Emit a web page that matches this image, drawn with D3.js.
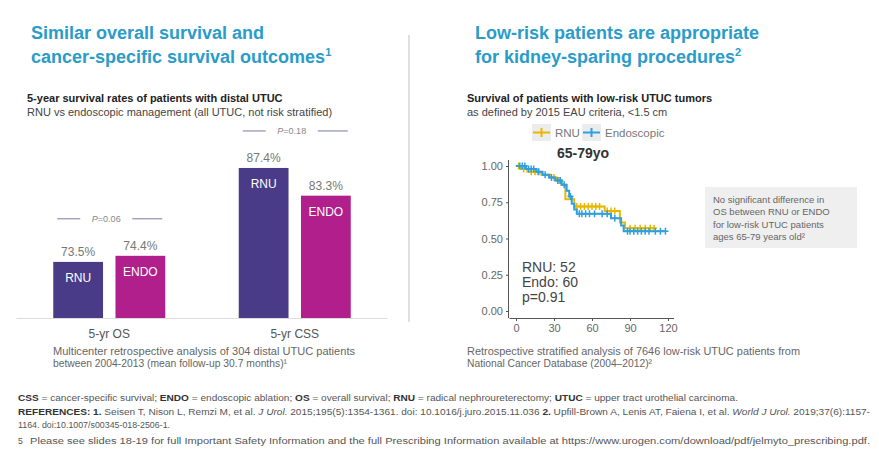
<html lang="en">
<head>
<meta charset="UTF-8">
<title>UTUC survival</title>
<script src="https://cdn.jsdelivr.net/npm/d3@7"></script>
<style>
  body { margin: 0; background: #fff; }
  text { font-family: "Liberation Sans", Arial, sans-serif; }
</style>
</head>
<body>
<div id="chart"></div>
<script>
// ---- data ----
const groups = ["5-yr OS", "5-yr CSS"];
const arms = ["RNU", "ENDO"];
const rnuRates = [73.5, 87.4];
const endoRates = [74.4, 83.3];
const pValues = ["0.06", "0.18"];

// Kaplan-Meier steps (month, survival)
const rnuSteps = [[0, 1.00], [4, 0.98], [9, 0.96], [20, 0.94], [27, 0.92], [32, 0.90], [36, 0.87],
  [39, 0.77], [46, 0.72], [70, 0.69], [82, 0.61], [86, 0.57], [109, 0.57]];
const rnuCensor = [2, 6, 12, 15, 17, 30, 34, 48, 51, 54, 57, 60, 63, 66, 72, 75, 78, 90, 94, 98, 102, 106, 109];
const endoSteps = [[0, 1.00], [8, 0.98], [16, 0.96], [21, 0.94], [26, 0.92], [31, 0.90], [36, 0.87],
  [40, 0.83], [42, 0.79], [44, 0.74], [46, 0.70], [48, 0.67], [75, 0.64], [83, 0.59], [85, 0.55], [118, 0.55]];
const endoCensor = [3, 5, 7, 10, 12, 14, 18, 23, 28, 33, 35, 38, 43, 50, 52, 55, 58, 62, 68, 72, 78, 88, 90, 93, 96, 99, 102, 105, 110, 114, 118];
const kmTicksX = [0, 30, 60, 90, 120];
const kmTicksY = [0, 0.25, 0.5, 0.75, 1];

const teal = "#2a9cc9", grey = "#666", purple = "#4a3b89", magenta = "#b01f8c";
const orange = "#E7B800", blue = "#2E9FDF";

function translate(x, y) { return 'translate(' + x + ',' + y + ')'; }

let svg = d3.select("#chart").append("svg")
  .attr("width", 879).attr("height", 452);

// headings
function heading(x, lines, sup) {
  lines.forEach((l, i) => {
    let t = svg.append("text").attr("x", x).attr("y", 39 + i * 24)
      .attr("fill", teal).style("font-size", "18px").style("font-weight", "bold").text(l);
    if (i === lines.length - 1)
      t.append("tspan").attr("dy", -7).style("font-size", "11px").text(sup);
  });
}
heading(31, ["Similar overall survival and", "cancer-specific survival outcomes"], "1");
heading(475, ["Low-risk patients are appropriate", "for kidney-sparing procedures"], "2");

// divider
svg.append("line").attr("x1", 409).attr("x2", 409).attr("y1", 35).attr("y2", 322)
  .attr("stroke", "#d6d6d6").attr("stroke-width", 1.5);

// ---------- left: bar chart ----------
svg.append("text").attr("x", 27).attr("y", 102).style("font-size", "11px")
  .style("font-weight", "bold").attr("fill", "#222").text("5-year survival rates of patients with distal UTUC");
svg.append("text").attr("x", 27).attr("y", 116).style("font-size", "11px")
  .attr("fill", "#444").text("RNU vs endoscopic management (all UTUC, not risk stratified)");

let x0 = d3.scaleBand().domain(groups).range([16.5, 387.5]);
let x1 = d3.scaleBand().domain(arms).range([0, 112]).paddingInner(0.2);
let y = d3.scaleLinear().domain([65.2, 100]).range([318, 82.8]);

let bars = [];
groups.forEach((g, i) => {
  bars.push({ group: g, arm: "RNU", v: rnuRates[i], color: purple });
  bars.push({ group: g, arm: "ENDO", v: endoRates[i], color: magenta });
});
let bx = d => x0(d.group) + x0.bandwidth() / 2 - 56 + x1(d.arm);

let bar = svg.selectAll(".bar").data(bars).enter().append("g");
bar.append("rect")
  .attr("x", bx).attr("width", x1.bandwidth())
  .attr("y", d => y(d.v)).attr("height", d => 318 - y(d.v))
  .attr("fill", d => d.color);
bar.append("text")
  .attr("x", d => bx(d) + x1.bandwidth() / 2).attr("y", d => y(d.v) + 20)
  .attr("text-anchor", "middle").attr("fill", "#fff").style("font-size", "12px")
  .text(d => d.arm);
bar.append("text")
  .attr("x", d => bx(d) + x1.bandwidth() / 2).attr("y", d => y(d.v) - 6)
  .attr("text-anchor", "middle").attr("fill", "#777").style("font-size", "12px")
  .text(d => d.v.toFixed(1) + "%");

svg.append("line").attr("x1", 16.5).attr("x2", 387.5).attr("y1", 318.5).attr("y2", 318.5)
  .attr("stroke", "#ddd").attr("stroke-width", 1);

let xAxis = svg.append("g").attr("transform", translate(0, 318))
  .call(d3.axisBottom(x0).tickSize(0).tickPadding(11));
xAxis.select(".domain").remove();
xAxis.selectAll("text").style("font-size", "12px").attr("fill", "#555")
  .style("font-family", "Liberation Sans, Arial, sans-serif");

// p-value brackets
groups.forEach((g, i) => {
  let cx = x0(g) + x0.bandwidth() / 2;
  let top = Math.min(y(rnuRates[i]), y(endoRates[i]));
  let py = top - 37;
  svg.append("line").attr("x1", cx - 52).attr("x2", cx - 29).attr("y1", py).attr("y2", py)
    .attr("stroke", "#7b7aa8").attr("stroke-width", 1);
  svg.append("line").attr("x1", cx + 23).attr("x2", cx + 53).attr("y1", py).attr("y2", py)
    .attr("stroke", "#7b7aa8").attr("stroke-width", 1);
  let t = svg.append("text").attr("x", cx - 3).attr("y", py + 3).attr("text-anchor", "middle")
    .attr("fill", "#888").style("font-size", "9px");
  t.append("tspan").style("font-style", "italic").text("P");
  t.append("tspan").text("=" + pValues[i]);
});

// footnotes under the two charts
function footnote(x, lines, lens) {
  lines.forEach((l, i) => {
    svg.append("text").attr("x", x).attr("y", 355 + i * 12).attr("fill", grey)
      .style("font-size", "11px").text(l)
      .attr("textLength", lens[i]).attr("lengthAdjust", "spacingAndGlyphs");
  });
}
footnote(53, ["Multicenter retrospective analysis of 304 distal UTUC patients",
  "between 2004-2013 (mean follow-up 30.7 months)\u00b9"], [302, 234]);
footnote(467, ["Retrospective stratified analysis of 7646 low-risk UTUC patients from",
  "National Cancer Database (2004\u20132012)\u00b2"], [333, 185]);

// ---------- right: KM curve ----------
svg.append("text").attr("x", 467).attr("y", 102).style("font-size", "11px")
  .style("font-weight", "bold").attr("fill", "#222").text("Survival of patients with low-risk UTUC tumors");
svg.append("text").attr("x", 467).attr("y", 116).style("font-size", "11px")
  .attr("fill", "#444").text("as defined by 2015 EAU criteria, <1.5 cm");

let kx = d3.scaleLinear().domain([0, 120]).range([516, 668]);
let ky = d3.scaleLinear().domain([0, 1]).range([311, 166]);

let gx = svg.append("g").attr("transform", translate(0, 318)).call(d3.axisBottom(kx).tickValues(kmTicksX).tickSize(3));
gx.select(".domain").attr("d", "M509.5,0.5H674");
let gy = svg.append("g").attr("transform", translate(509, 0)).call(d3.axisLeft(ky).tickValues(kmTicksY).tickSize(3).tickFormat(d3.format(".2f")));
gy.select(".domain").attr("d", "M-0.5,160V318");
[gx, gy].forEach(g => {
  g.selectAll("path,line").attr("stroke", "#555");
  g.selectAll("text").attr("fill", "#666").style("font-size", "11px")
    .style("font-family", "Liberation Sans, Arial, sans-serif");
});

function survAt(steps, t) {
  let s = steps[0][1];
  steps.forEach(p => { if (p[0] <= t) s = p[1]; });
  return s;
}
let stepLine = d3.line().x(d => kx(d[0])).y(d => ky(d[1])).curve(d3.curveStepAfter);
[[rnuSteps, rnuCensor, orange], [endoSteps, endoCensor, blue]].forEach(s => {
  svg.append("path").datum(s[0]).attr("d", stepLine).attr("fill", "none")
    .attr("stroke", s[2]).attr("stroke-width", 2);
  s[1].forEach(t => {
    let cx = kx(t), cy = ky(survAt(s[0], t));
    svg.append("path").attr("d", `M${cx - 3},${cy}H${cx + 3}M${cx},${cy - 3.5}V${cy + 3.5}`)
      .attr("stroke", s[2]).attr("stroke-width", 1.5);
  });
});

// legend
[["RNU", orange, 532], ["Endoscopic", blue, 582]].forEach(l => {
  svg.append("rect").attr("x", l[2]).attr("y", 124).attr("width", 19).attr("height", 17).attr("fill", "#ececec");
  svg.append("path").attr("d", `M${l[2] + 1},132.5H${l[2] + 18}M${l[2] + 9.5},128V137`)
    .attr("stroke", l[1]).attr("stroke-width", 2);
  svg.append("text").attr("x", l[2] + 23).attr("y", 137).attr("fill", "#777").style("font-size", "11.5px").text(l[0]);
});
svg.append("text").attr("x", 583).attr("y", 158).attr("text-anchor", "middle").style("font-size", "14px")
  .style("font-weight", "bold").attr("fill", "#333").text("65-79yo");

["RNU: 52", "Endo: 60", "p=0.91"].forEach((l, i) => {
  svg.append("text").attr("x", 522).attr("y", 272 + i * 15).attr("fill", "#444")
    .style("font-size", "14px").text(l);
});

// note box
svg.append("rect").attr("x", 705).attr("y", 187).attr("width", 152).attr("height", 61).attr("fill", "#efefef");
let noteLines = ["No significant difference in", "OS between RNU or ENDO", "for low-risk UTUC patients", "ages 65-79 years old\u00b2"];
noteLines.forEach((l, i) => {
  svg.append("text").attr("x", 713).attr("y", 203 + i * 12.3).attr("fill", grey).style("font-size", "9.5px").text(l);
});

// ---------- bottom notes ----------
function richLine(y, parts, len) {
  let t = svg.append("text").attr("x", 18).attr("y", y).attr("fill", "#555").style("font-size", "8.5px")
    .attr("textLength", len).attr("lengthAdjust", "spacingAndGlyphs");
  parts.forEach(p => {
    let s = t.append("tspan").text(p[0]);
    if (p[1] === "b") s.style("font-weight", "bold").attr("fill", "#333");
    if (p[1] === "i") s.style("font-style", "italic");
  });
}
richLine(401, [["CSS", "b"], [" = cancer-specific survival; "], ["ENDO", "b"], [" = endoscopic ablation; "], ["OS", "b"],
  [" = overall survival; "], ["RNU", "b"], [" = radical nephroureterectomy; "], ["UTUC", "b"], [" = upper tract urothelial carcinoma."]], 720);
richLine(415, [["REFERENCES:", "b"], [" "], ["1.", "b"], [" Seisen T, Nison L, Remzi M, et al. "], ["J Urol.", "i"],
  [" 2015;195(5):1354-1361. doi: 10.1016/j.juro.2015.11.036 "], ["2.", "b"], [" Upfill-Brown A, Lenis AT, Faiena I, et al. "],
  ["World J Urol.", "i"], [" 2019;37(6):1157-"]], 852);
richLine(428, [["1164. doi:10.1007/s00345-018-2506-1."]], 152);
svg.append("text").attr("x", 18).attr("y", 444).attr("fill", "#555").style("font-size", "8.5px").text("5");
svg.append("text").attr("x", 30).attr("y", 444).attr("fill", "#555").style("font-size", "8.5px")
  .attr("textLength", 840).attr("lengthAdjust", "spacingAndGlyphs")
  .text("Please see slides 18-19 for full Important Safety Information and the full Prescribing Information available at https://www.urogen.com/download/pdf/jelmyto_prescribing.pdf.");
</script>
</body>
</html>
